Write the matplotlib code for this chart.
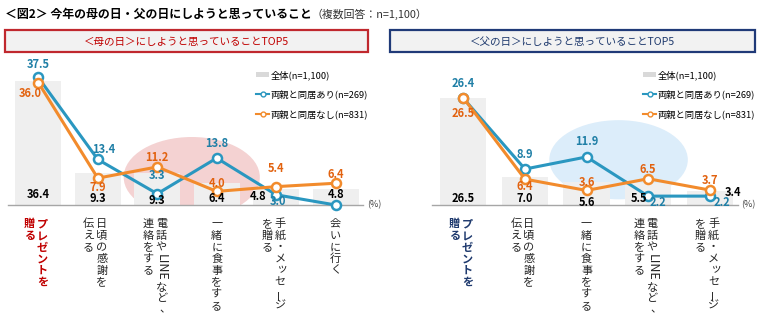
import matplotlib
matplotlib.use("Agg")
import matplotlib.pyplot as plt
from matplotlib.patches import Rectangle, Ellipse, Patch
from matplotlib.lines import Line2D

plt.rcParams["font.family"] = ["Noto Sans CJK JP", "DejaVu Sans"]

# 母の日
mom_cats = ["プレゼントを\n贈る", "日頃の感謝を\n伝える", "電話やLINEなど、\n連絡をする",
            "一緒に食事をする", "手紙・メッセージ\nを贈る", "会いに行く"]
mom_total = [36.4, 9.3, 9.3, 6.4, 4.8, 4.8]
mom_with = [37.5, 13.4, 3.3, 13.8, 3.0, 0.0]
mom_without = [36.0, 7.9, 11.2, 4.0, 5.4, 6.4]

# 父の日
dad_cats = ["プレゼントを\n贈る", "日頃の感謝を\n伝える", "一緒に食事をする",
            "電話やLINEなど、\n連絡をする", "手紙・メッセージ\nを贈る"]
dad_total = [26.5, 7.0, 5.6, 5.5, 3.4]
dad_with = [26.4, 8.9, 11.9, 2.2, 2.2]
dad_without = [26.5, 6.4, 3.6, 6.5, 3.7]

legend_labels = ["全体(n=1,100)", "両親と同居あり(n=269)", "両親と同居なし(n=831)"]

BAR = "#efefef"
BLUE = "#2a97c0"
ORANGE = "#f28b2c"
BLUE_TXT = "#1f7fa6"
ORANGE_TXT = "#e2620f"

# label offsets in pixels (dx, dy up); None = no label
mom_with_off = [(0, 13), (6, 10), (0, 18), (0, 15), (2, -7), None]
mom_without_off = [(-8, -11), (0, -9), (0, 9), (0, 8), (0, 18), (0, 9)]
mom_total_off = [(0, 11), (0, 7), (0, 4), (0, 7), (-18, 8), (0, 11)]
dad_with_off = [(0, 15), (0, 15), (0, 15), (10, -6), (12, -6)]
dad_without_off = [(0, -16), (0, -7), (0, 8), (0, 9), (0, 10)]
dad_total_off = [(0, 7), (0, 7), (0, 3), (-9, 7), (23, 12)]


def px(v):
    return v * 72 / 100


def draw_vertical(ax, x, text, color, weight):
    """Stack the characters of a category name top to bottom (right column first)."""
    lines = text.split("\n")
    cols = [0] if len(lines) == 1 else [4, -9]
    kw = dict(xy=(x, 0), textcoords="offset points", color=color,
              fontweight=weight, annotation_clip=False)
    for line, dx in zip(lines, cols):
        y = 13
        i = 0
        while i < len(line):
            ch = line[i]
            if ch.isascii() and ch.isalpha():
                # latin runs are laid sideways
                j = i
                while j < len(line) and line[j].isascii() and line[j].isalpha():
                    j += 1
                run = line[i:j]
                step = 7.2 * len(run)
                ax.annotate(run, xytext=(px(dx), -px(y + step / 2)), rotation=-90,
                            ha="center", va="center", fontsize=9, **kw)
                y += step
                i = j
                continue
            rot, ox, oy = 0, 0, 0
            if ch == "ー":
                rot = 90
            elif ch == "、":
                ox, oy = 4, -2
            elif ch in "ッっ":
                ox, oy = 1.5, -1.5
            ax.annotate(ch, xytext=(px(dx + ox), -px(y + 5.85 + oy)), rotation=rot,
                        ha="center", va="center", fontsize=8, **kw)
            y += 11.7
            i += 1


def value_labels(ax, values, offsets, color, base=None):
    for i, (v, off) in enumerate(zip(values, offsets)):
        if off is None:
            continue
        y = v if base is None else base
        ax.annotate(f"{v:.1f}", xy=(i, y), xytext=(px(off[0]), px(off[1])),
                    textcoords="offset points", ha="center", va="center",
                    fontsize=8, fontweight="bold", color=color, zorder=6)


def draw_panel(ax, cats, total, with_, without, offs, ylim, bar_w, ellipse, first_color):
    xs = range(len(cats))
    ax.add_patch(Ellipse(ellipse[0], ellipse[1], ellipse[2], facecolor=ellipse[3],
                         edgecolor="none", zorder=0))
    ax.bar(xs, total, width=bar_w, color=BAR, zorder=1)
    for vals, c in ((with_, BLUE), (without, ORANGE)):
        ax.plot(xs, vals, color=c, lw=2.2, marker="o", markersize=6.5,
                markerfacecolor="white", markeredgewidth=1.8, zorder=4, clip_on=False)
    value_labels(ax, with_, offs[0], BLUE_TXT)
    value_labels(ax, without, offs[1], ORANGE_TXT)
    value_labels(ax, total, offs[2], "black", base=0)

    ax.set_xlim(-0.51, len(cats) - 0.54)
    ax.set_ylim(0, ylim)
    for s in ("top", "left", "right"):
        ax.spines[s].set_visible(False)
    ax.spines["bottom"].set_color("#a6a6a6")
    ax.spines["bottom"].set_linewidth(1.0)
    ax.set_xticks([])
    ax.set_yticks([])
    ax.patch.set_alpha(0)

    for i, c in enumerate(cats):
        if i == 0:
            draw_vertical(ax, i, c, first_color, "bold")
        else:
            draw_vertical(ax, i, c, "#262626", "normal")


fig = plt.figure(figsize=(7.6, 3.22), dpi=100)

# pixel-space layer for title, header boxes and units
top = fig.add_axes([0, 0, 1, 1])
top.set_xlim(0, 760)
top.set_ylim(322, 0)
top.axis("off")

title = top.text(5, 14, "＜図2＞ 今年の母の日・父の日にしようと思っていること",
                 fontsize=8.6, fontweight="bold", va="center", ha="left")
top.annotate("（複数回答：n=1,100）", xy=(1, 0.5), xycoords=title, va="center",
             ha="left", fontsize=7.8, color="#333333")

top.add_patch(Rectangle((5, 30), 363, 22, facecolor="#f2f2f2", edgecolor="#c0282e", lw=1.6))
top.text(186.5, 41.5, "＜母の日＞にしようと思っていることTOP5", ha="center", va="center",
         fontsize=7.6, color="#c00000")
top.add_patch(Rectangle((390, 30), 365, 22, facecolor="#f2f2f2", edgecolor="#203a78", lw=1.6))
top.text(572.5, 41.5, "＜父の日＞にしようと思っていることTOP5", ha="center", va="center",
         fontsize=7.6, color="#1f3a6e")
top.text(367, 205, "(%)", fontsize=6.5, color="#404040", va="center", ha="left")
top.text(741, 205, "(%)", fontsize=6.5, color="#404040", va="center", ha="left")

ax1 = fig.add_axes([8 / 760, 117 / 322, 355 / 760, 145 / 322])
draw_panel(ax1, mom_cats, mom_total, mom_with, mom_without,
           (mom_with_off, mom_without_off, mom_total_off), 145 / 3.4, 0.77,
           ((2.58, 8.2), 2.29, 23.6, "#f4d2d2"), "#c00000")

ax2 = fig.add_axes([432 / 760, 117 / 322, 306 / 760, 145 / 322])
draw_panel(ax2, dad_cats, dad_total, dad_with, dad_without,
           (dad_with_off, dad_without_off, dad_total_off), 145 / 4.04, 0.75,
           ((2.52, 11.2), 2.25, 19.6, "#dcedfa"), "#1f3a6e")

handles = [
    Patch(facecolor="#d9d9d9", edgecolor="none"),
    Line2D([], [], color=BLUE, lw=1.5, marker="o", markersize=3.5,
           markerfacecolor="white", markeredgewidth=1.0),
    Line2D([], [], color=ORANGE, lw=1.5, marker="o", markersize=3.5,
           markerfacecolor="white", markeredgewidth=1.0),
]
for ax, x0 in ((ax1, 256), (ax2, 643)):
    ax.legend(handles, legend_labels, loc="upper left", bbox_to_anchor=(x0, 70),
              bbox_transform=top.transData, frameon=False, fontsize=6.7,
              handlelength=1.4, handleheight=0.6, handletextpad=0.2,
              labelspacing=1.05, borderpad=0, borderaxespad=0)

fig.savefig("out.png", dpi=100)
